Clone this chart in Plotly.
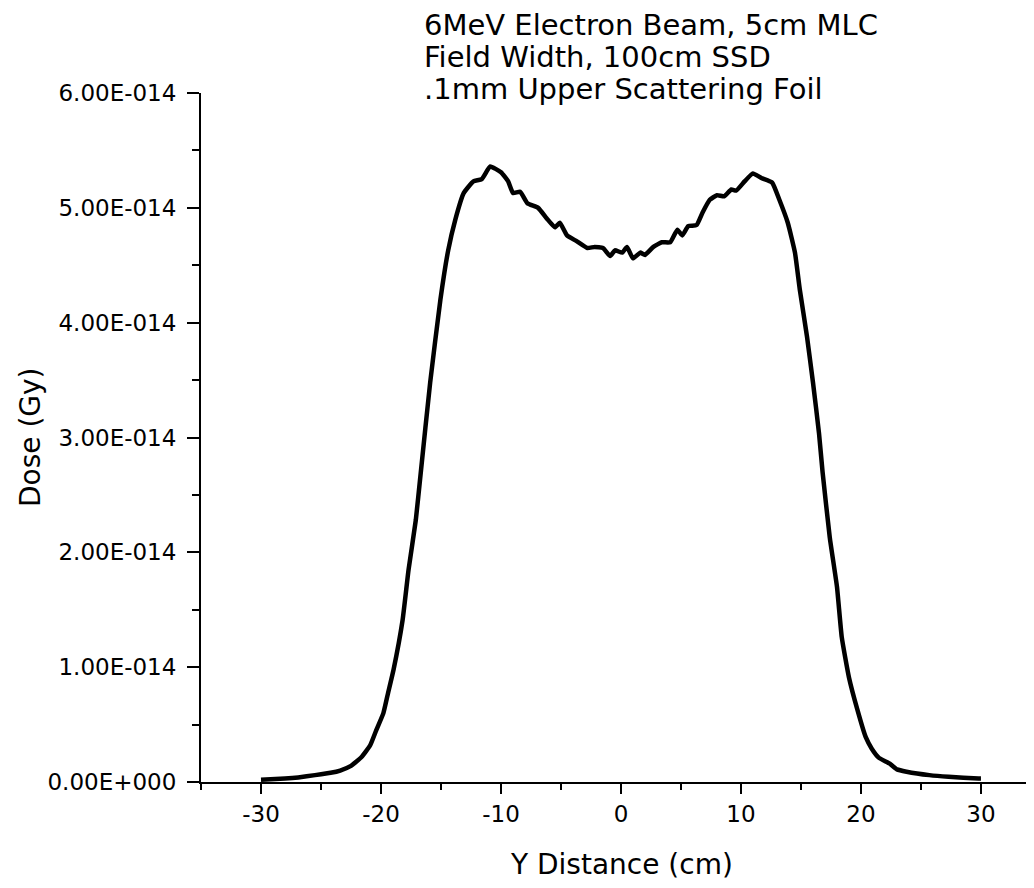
"""Dose profile of a 6MeV electron beam across the Y direction."""

import plotly.graph_objects as go

# Y position across the field (cm)
y_distance_cm = [
    -30.0, -28.0, -26.9, -25.5, -24.2, -23.4, -22.5, -21.6, -20.9, -20.4,
    -19.8, -19.4, -18.95, -18.2, -17.7, -17.1, -16.7, -15.9, -15.05, -14.4,
    -13.8, -13.1, -12.3, -11.6, -10.9, -10.0, -9.4, -9.0, -8.4, -7.8,
    -6.9, -6.2, -5.5, -5.1, -4.5, -3.7, -2.8, -2.2, -1.5, -0.9,
    -0.5, 0.1, 0.5, 1.0, 1.6, 2.0, 2.7, 3.4, 4.1, 4.7,
    5.1, 5.6, 6.3, 6.8, 7.4, 8.0, 8.6, 9.2, 9.6, 10.3,
    11.0, 11.7, 12.6, 13.2, 13.9, 14.5, 14.9, 15.5, 16.0, 16.5,
    16.8, 17.4, 18.0, 18.4, 19.0, 19.7, 20.4, 20.9, 21.5, 22.4,
    23.0, 23.8, 25.7, 27.3, 29.8, 30.0,
]

# Dose in units of 1E-14 Gy
dose_e14 = [
    0.02, 0.03, 0.04, 0.06, 0.08, 0.10, 0.14, 0.22, 0.32, 0.45,
    0.60, 0.78, 0.98, 1.41, 1.85, 2.28, 2.68, 3.48, 4.20, 4.63,
    4.90, 5.13, 5.23, 5.25, 5.36, 5.31, 5.23, 5.13, 5.14, 5.04,
    5.00, 4.91, 4.83, 4.87, 4.76, 4.71, 4.65, 4.66, 4.65, 4.58,
    4.63, 4.61, 4.66, 4.56, 4.61, 4.59, 4.66, 4.70, 4.70, 4.81,
    4.76, 4.84, 4.85, 4.96, 5.07, 5.11, 5.10, 5.16, 5.15, 5.23,
    5.30, 5.26, 5.22, 5.07, 4.87, 4.61, 4.29, 3.88, 3.48, 3.04,
    2.70, 2.13, 1.70, 1.26, 0.91, 0.63, 0.39, 0.29, 0.21, 0.16,
    0.11, 0.09, 0.06, 0.045, 0.03, 0.03,
]

y_tick_vals = [0, 1, 2, 3, 4, 5, 6]
y_tick_text = [
    "0.00E+000", "1.00E-014", "2.00E-014", "3.00E-014",
    "4.00E-014", "5.00E-014", "6.00E-014",
]
x_tick_vals = [-30, -20, -10, 0, 10, 20, 30]
x_tick_text = ["-30", "-20", "-10", "0", "10", "20", "30"]

title_lines = [
    "6MeV Electron Beam, 5cm MLC",
    "Field Width, 100cm SSD",
    ".1mm Upper Scattering Foil",
]

FONT = "DejaVu Sans, Liberation Sans, Arial"

# page body has an 8px margin, so work in screen pixels and shift
OFFSET = 8
PLOT_LEFT = 201
PLOT_TOP = 93
PLOT_BOTTOM = 782
PLOT_RIGHT = 1034
PLOT_H = PLOT_BOTTOM - PLOT_TOP
PLOT_W = PLOT_RIGHT - PLOT_LEFT


def paper_x(px):
    return (px - PLOT_LEFT) / PLOT_W


def paper_y(py):
    return 1 + (PLOT_TOP - py) / PLOT_H


fig = go.Figure(
    go.Scatter(
        x=y_distance_cm,
        y=dose_e14,
        mode="lines",
        line={"color": "black", "width": 4.5, "shape": "spline", "smoothing": 0.4},
        showlegend=False,
    )
)

annotations = []
# Title block, three lines
for i, line in enumerate(title_lines):
    annotations.append(
        {
            "text": line,
            "xref": "paper",
            "yref": "paper",
            "x": paper_x(422),
            "y": paper_y(25 + 32 * i),
            "xanchor": "left",
            "yanchor": "middle",
            "showarrow": False,
            "font": {"size": 29, "color": "black", "family": FONT},
        }
    )
# Axis titles
annotations.append(
    {
        "text": "Y Distance (cm)",
        "xref": "paper",
        "yref": "paper",
        "x": paper_x(621),
        "y": paper_y(864),
        "xanchor": "center",
        "yanchor": "middle",
        "showarrow": False,
        "font": {"size": 28, "color": "black", "family": FONT},
    }
)
annotations.append(
    {
        "text": "Dose (Gy)",
        "xref": "paper",
        "yref": "paper",
        "x": paper_x(30),
        "y": paper_y(437),
        "xanchor": "center",
        "yanchor": "middle",
        "textangle": -90,
        "showarrow": False,
        "font": {"size": 28, "color": "black", "family": FONT},
    }
)

fig.update_layout(
    width=1034,
    height=888 - OFFSET,
    margin={
        "l": PLOT_LEFT - OFFSET,
        "r": OFFSET,
        "t": PLOT_TOP - OFFSET,
        "b": 888 - PLOT_BOTTOM,
        "pad": 0,
    },
    plot_bgcolor="white",
    paper_bgcolor="white",
    font={"family": FONT, "color": "black", "size": 23},
    annotations=annotations,
    xaxis={
        "range": [-35, 34.42],
        "tickvals": x_tick_vals,
        "ticktext": x_tick_text,
        "ticks": "outside",
        "ticklen": 10,
        "tickwidth": 2,
        "tickcolor": "black",
        "showline": True,
        "linecolor": "black",
        "linewidth": 2,
        "showgrid": False,
        "zeroline": False,
        "tickfont": {"size": 23},
        "minor": {
            "dtick": 5,
            "tick0": 0,
            "ticks": "outside",
            "ticklen": 6,
            "tickwidth": 2,
            "tickcolor": "black",
            "showgrid": False,
        },
    },
    yaxis={
        "range": [0, 6],
        "tickvals": y_tick_vals,
        "ticktext": y_tick_text,
        "ticks": "outside",
        "ticklen": 12,
        "tickwidth": 2,
        "tickcolor": "black",
        "ticklabelstandoff": 6,
        "showline": True,
        "linecolor": "black",
        "linewidth": 2,
        "showgrid": False,
        "zeroline": False,
        "tickfont": {"size": 23},
        "minor": {
            "dtick": 0.5,
            "tick0": 0,
            "ticks": "outside",
            "ticklen": 7,
            "tickwidth": 2,
            "tickcolor": "black",
            "showgrid": False,
        },
    },
)

fig.write_html("out.html")
